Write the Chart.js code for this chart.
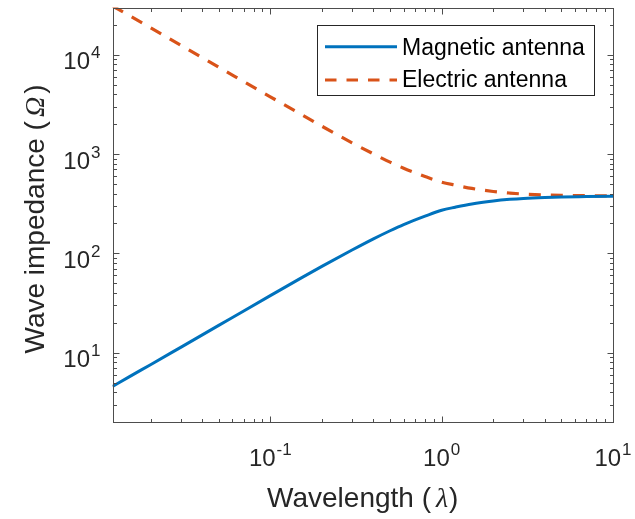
<!DOCTYPE html>
<html><head><meta charset="utf-8">
<script src="https://cdn.jsdelivr.net/npm/chart.js@4/dist/chart.umd.min.js"></script>
<style>html,body{margin:0;padding:0;background:#fff;}#wrap{width:635px;height:519px;position:relative;}</style>
</head><body><div id="wrap"><canvas id="c" width="635" height="519"></canvas></div>
<script>
// ---- data ----
const wavelength = [0.012,0.015,0.02,0.03,0.05,0.07,0.1,0.15,0.2,0.3,0.4,0.5,0.6,0.8,1,1.2,1.5,2,2.5,3,4,5,7,10];
const magnetic   = [4.55,5.7,7.55,11.3,18.8,26.3,37.5,56,74,108,140,169,195,237,272,292,315,337,350,358,366,370,373,376];
const electric   = [31000,25000,18800,12500,7500,5380,3780,2540,1910,1300,1005,830,722,595,522,487,451,420,405,396,388,384,381,378];
const seriesNames = ['Magnetic antenna','Electric antenna'];
const xTickExponents = [-1,0,1];
const yTickExponents = [1,2,3,4];
const xRange = [0.012,10];
const yRange = [2,30000];
const xTitleMain = 'Wavelength (', xTitleSym = 'λ', xTitleEnd = ')';
const yTitleMain = 'Wave impedance (', yTitleSym = 'Ω', yTitleEnd = ')';

const BLUE = '#0072BD', ORANGE = '#D95319', AX = '#4d4d4d', TXT = '#262626';
const SANS = "'Liberation Sans', Arial, sans-serif";
const SERIF_I = "italic 28px 'Liberation Serif', 'DejaVu Serif', serif";

function minorValues(min, max){
  const out=[];
  for(let e=Math.floor(Math.log10(min)); e<=Math.ceil(Math.log10(max)); e++){
    for(let m=1;m<=9;m++){
      const v=m*Math.pow(10,e);
      if(v>=min*0.999 && v<=max*1.001) out.push({v, major:m===1});
    }
  }
  return out;
}

function drawPow(ctx, exp, x, y, align){
  const base='10', sup=String(exp);
  ctx.font='24px '+SANS; const wb=ctx.measureText(base).width;
  ctx.font='17px '+SANS; const ws=ctx.measureText(sup).width;
  const total=wb+ws+1;
  let left = align==='center' ? x-total/2 : x-total;
  ctx.textAlign='left'; ctx.textBaseline='alphabetic'; ctx.fillStyle=TXT;
  ctx.font='24px '+SANS; ctx.fillText(base,left,y);
  ctx.font='17px '+SANS; ctx.fillText(sup,left+wb+1,y-11);
}

function drawMixedTitle(ctx, parts){
  let w=0; parts.forEach(p=>{ctx.font=p.f; p.w=ctx.measureText(p.t).width+(p.g||0); w+=p.w;});
  let x=-w/2;
  parts.forEach(p=>{ctx.font=p.f; ctx.fillText(p.t,x+(p.g||0),0); x+=p.w;});
}

const axesPlugin = {
  id:'matlabAxes',
  afterDraw(chart){
    const ctx=chart.ctx, a=chart.chartArea, xs=chart.scales.x, ys=chart.scales.y;
    ctx.save();
    ctx.strokeStyle=AX; ctx.lineWidth=1;
    const L=Math.round(a.left)+0.5, R=Math.round(a.right)+0.5, T=Math.round(a.top)+0.5, B=Math.round(a.bottom)+0.5;
    ctx.strokeRect(L,T,R-L,B-T);
    ctx.beginPath();
    minorValues(xRange[0],xRange[1]).forEach(t=>{
      const px=Math.round(xs.getPixelForValue(t.v))+0.5, len=t.major?6:3.5;
      ctx.moveTo(px,B); ctx.lineTo(px,B-len);
      ctx.moveTo(px,T); ctx.lineTo(px,T+len);
    });
    minorValues(yRange[0],yRange[1]).forEach(t=>{
      const py=Math.round(ys.getPixelForValue(t.v))+0.5, len=t.major?6:3.5;
      ctx.moveTo(L,py); ctx.lineTo(L+len,py);
      ctx.moveTo(R,py); ctx.lineTo(R-len,py);
    });
    ctx.stroke();
    xTickExponents.forEach(e=>{
      const px=xs.getPixelForValue(Math.pow(10,e));
      drawPow(ctx,e,px,466,'center');
    });
    yTickExponents.forEach(e=>{
      const py=ys.getPixelForValue(Math.pow(10,e));
      drawPow(ctx,e,a.left-12,py+14.5,'right');
    });
    ctx.fillStyle=TXT; ctx.textAlign='left'; ctx.textBaseline='alphabetic';
    ctx.save(); ctx.translate((a.left+a.right)/2,506.5);
    drawMixedTitle(ctx,[{t:xTitleMain,f:'28px '+SANS},{t:xTitleSym,f:SERIF_I,g:5},{t:xTitleEnd,f:'28px '+SANS,g:1}]);
    ctx.restore();
    ctx.save(); ctx.translate(43.5,219); ctx.rotate(-Math.PI/2);
    drawMixedTitle(ctx,[{t:yTitleMain,f:'28px '+SANS},{t:yTitleSym,f:SERIF_I,g:4},{t:yTitleEnd,f:'28px '+SANS,g:3}]);
    ctx.restore();
    // legend
    ctx.fillStyle='#fff'; ctx.fillRect(317.5,25.5,277,70);
    ctx.strokeStyle='#262626'; ctx.lineWidth=1; ctx.strokeRect(317.5,25.5,277,70);
    ctx.lineWidth=3;
    ctx.strokeStyle=BLUE; ctx.setLineDash([]); ctx.beginPath(); ctx.moveTo(325,46.7); ctx.lineTo(397,46.7); ctx.stroke();
    ctx.strokeStyle=ORANGE; ctx.setLineDash([11.5,10]); ctx.beginPath(); ctx.moveTo(325,80); ctx.lineTo(397,80); ctx.stroke();
    ctx.setLineDash([]);
    ctx.fillStyle='#000'; ctx.font='23px '+SANS; ctx.textAlign='left';
    ctx.fillText(seriesNames[0],402,55);
    ctx.fillText(seriesNames[1],402,86.5);
    ctx.restore();
  }
};

new Chart(document.getElementById('c'),{
  type:'line',
  data:{
    labels:wavelength,
    datasets:[
      {label:seriesNames[0],data:wavelength.map((x,i)=>({x,y:magnetic[i]})),borderColor:BLUE,borderWidth:3,pointRadius:0,cubicInterpolationMode:'monotone',fill:false},
      {label:seriesNames[1],data:wavelength.map((x,i)=>({x,y:electric[i]})),borderColor:ORANGE,borderWidth:3.2,borderDash:[12,10],pointRadius:0,cubicInterpolationMode:'monotone',fill:false}
    ]
  },
  options:{
    responsive:false,animation:false,
    layout:{padding:{left:112.5,top:7.5,right:22,bottom:97}},
    plugins:{legend:{display:false},tooltip:{enabled:false},title:{display:false}},
    scales:{
      x:{type:'logarithmic',min:xRange[0],max:xRange[1],display:false},
      y:{type:'logarithmic',min:yRange[0],max:yRange[1],display:false}
    }
  },
  plugins:[axesPlugin]
});
</script></body></html>
